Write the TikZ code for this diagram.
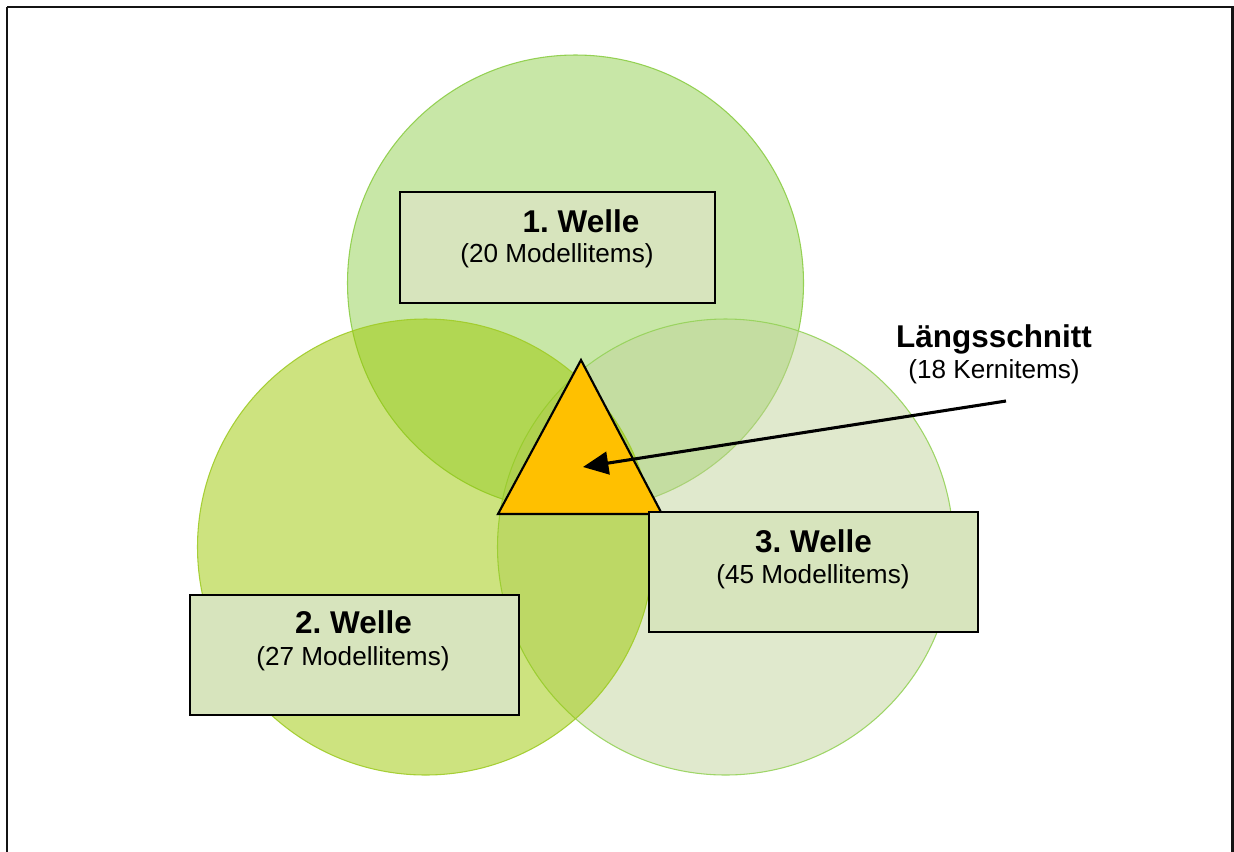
\documentclass[tikz,border=0pt]{standalone}
\usepackage{fontspec}
\setmainfont{Liberation Sans}
\usetikzlibrary{arrows.meta}
\frenchspacing

\definecolor{waveA}{RGB}{146,208,80}
\definecolor{waveB}{RGB}{155,199,0}
\definecolor{waveC}{RGB}{193,211,155}
\definecolor{waveAline}{RGB}{140,205,70}
\definecolor{waveBline}{RGB}{160,204,40}
\definecolor{waveCline}{RGB}{150,210,90}
\definecolor{boxfill}{RGB}{215,228,189}
\definecolor{coreorange}{RGB}{255,192,0}

\tikzset{
  wavecircle/.style={circle, inner sep=0pt, minimum size=342pt, line width=0.8pt, fill opacity=0.5, draw opacity=0.9},
  wavebox/.style={rectangle, draw=black, line width=1.5pt, fill=boxfill, inner sep=0pt},
  titletext/.style={anchor=base, inner sep=0pt, font=\fontsize{23.6pt}{28pt}\selectfont\bfseries},
  subtext/.style={anchor=base, inner sep=0pt, font=\fontsize{19.6pt}{24pt}\selectfont},
}

\begin{document}
\begin{tikzpicture}[x=0.75pt, y=-0.75pt]
  \useasboundingbox (0,0) rectangle (1234,851);

  % outer frame
  \draw[line width=1.8pt, draw={rgb,255:red,20;green,20;blue,20}] (7,7) -- (1232.5,7) -- (1232.5,900) (7,7) -- (7,900);

  % the three survey waves
  \node[wavecircle, fill=waveA, draw=waveAline] (w1) at (575.5,283) {};
  \node[wavecircle, fill=waveC, draw=waveCline] (w3) at (725.5,547) {};
  \node[wavecircle, fill=waveB, draw=waveBline] (w2) at (425.5,547) {};

  % core items shared by all waves
  \coordinate (tA) at (581,360);
  \coordinate (tL) at (498,514);
  \coordinate (tR) at (662,514);
  \draw[line width=1.6pt, fill=coreorange, line join=miter] (tA) -- (tL) -- (tR) -- cycle;

  % wave boxes
  \node[wavebox, minimum width=236.25pt, minimum height=83.25pt] (b1) at (557.5,247.5) {};
  \node[titletext] (b1t) at (581,232) {1. Welle};
  \node[subtext] (b1s) at (557,262) {(20 Modellitems)};

  \node[wavebox, minimum width=246.75pt, minimum height=90pt] (b2) at (354.5,655) {};
  \node[titletext] (b2t) at (353.5,633) {2. Welle};
  \node[subtext] (b2s) at (353,665) {(27 Modellitems)};

  \node[wavebox, minimum width=246.75pt, minimum height=90pt] (b3) at (813.5,572) {};
  \node[titletext] (b3t) at (813.5,552) {3. Welle};
  \node[subtext] (b3s) at (813,583) {(45 Modellitems)};

  % label of the core set
  \node[titletext] (lt) at (994,347) {Längsschnitt};
  \node[subtext] (ls) at (994,378) {(18 Kernitems)};

  \coordinate (arrowstart) at (1006,401);
  \coordinate (arrowend) at (583,467);
  \draw[line width=2.3pt, -{Triangle[length=19pt, width=17pt]}] (arrowstart) -- (arrowend);
\end{tikzpicture}
\end{document}
